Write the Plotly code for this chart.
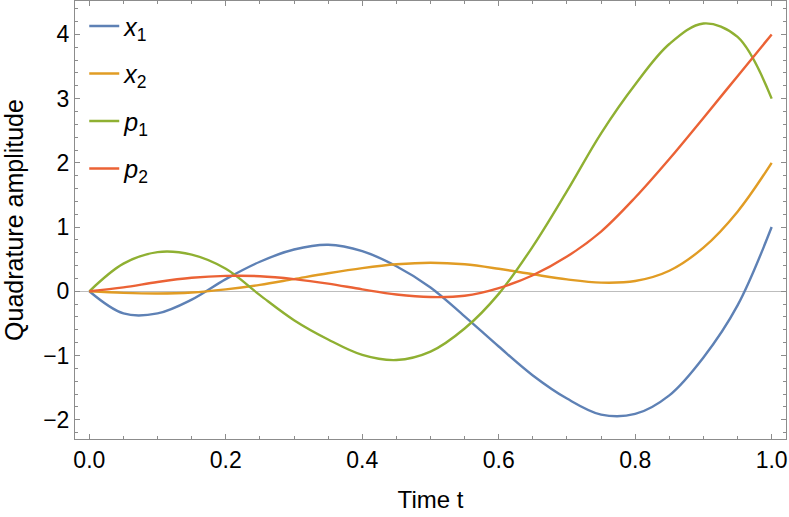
import plotly.graph_objects as go

# time samples and quadrature amplitudes
t = [0.0, 0.05, 0.1, 0.15, 0.2, 0.25, 0.3, 0.35, 0.4, 0.45, 0.5,
     0.55, 0.6, 0.65, 0.7, 0.75, 0.8, 0.85, 0.9, 0.95, 1.0]
x1 = [0.0, -0.345, -0.345, -0.13, 0.19, 0.46, 0.65, 0.725, 0.625, 0.39, 0.06,
      -0.39, -0.86, -1.31, -1.67, -1.92, -1.91, -1.62, -1.03, -0.22, 1.0]
x2 = [0.0, -0.025, -0.035, -0.02, 0.03, 0.10, 0.19, 0.28, 0.36, 0.42, 0.445,
      0.42, 0.35, 0.265, 0.185, 0.135, 0.16, 0.32, 0.68, 1.24, 2.0]
p1 = [0.0, 0.43, 0.61, 0.57, 0.35, -0.06, -0.45, -0.75, -0.99, -1.07, -0.94,
      -0.58, -0.04, 0.70, 1.56, 2.46, 3.22, 3.85, 4.17, 3.96, 3.0]
p2 = [0.0, 0.06, 0.145, 0.21, 0.24, 0.235, 0.19, 0.12, 0.03, -0.05, -0.09,
      -0.07, 0.05, 0.25, 0.54, 0.93, 1.46, 2.06, 2.70, 3.35, 4.0]

series = [
    ("<i>x</i><sub>1</sub>", x1, "#5E81B5"),
    ("<i>x</i><sub>2</sub>", x2, "#E19C24"),
    ("<i>p</i><sub>1</sub>", p1, "#8FB032"),
    ("<i>p</i><sub>2</sub>", p2, "#EB6235"),
]

fig = go.Figure()
for i, (name, y, col) in enumerate(series):
    fig.add_trace(go.Scatter(
        x=t, y=y, mode="lines", name=name, legendgroup=str(i),
        line=dict(color=col, width=2.4, shape="spline", smoothing=1.0),
    ))

frame = "#8c8c8c"
axis_common = dict(
    showline=True, linecolor=frame, linewidth=1, mirror="allticks",
    ticks="inside", ticklen=5, tickcolor=frame, tickwidth=1,
    showgrid=False,
    tickfont=dict(size=23, color="black"),
)

fig.update_layout(
    width=789, height=517,
    margin=dict(l=75, r=3, t=1, b=78),
    paper_bgcolor="white", plot_bgcolor="white",
    font=dict(family="Liberation Sans, Arial, sans-serif", color="black"),
    showlegend=True,
    legend=dict(
        x=0.013, y=0.995, xanchor="left", yanchor="top",
        bgcolor="rgba(0,0,0,0)", font=dict(size=25),
        tracegroupgap=12,
    ),
    xaxis=dict(
        range=[-0.021, 1.021], dtick=0.2, tick0=0, tickformat=".1f",
        zeroline=False,
        minor=dict(ticks="inside", ticklen=3, dtick=0.05, tickcolor=frame),
        title=dict(text="Time t", font=dict(size=24), standoff=19),
        **axis_common,
    ),
    yaxis=dict(
        range=[-2.30, 4.52], dtick=1, tick0=0,
        zeroline=True, zerolinecolor="#bdbdbd", zerolinewidth=1,
        minor=dict(ticks="inside", ticklen=3, dtick=0.2, tickcolor=frame),
        title=dict(text="Quadrature amplitude", font=dict(size=25), standoff=14),
        **axis_common,
    ),
)

# drop the browser's default 8px body margin so the figure sits at the corner
fig.write_html("out.html", config={"displayModeBar": False},
               post_script="document.body.style.margin='0';")
